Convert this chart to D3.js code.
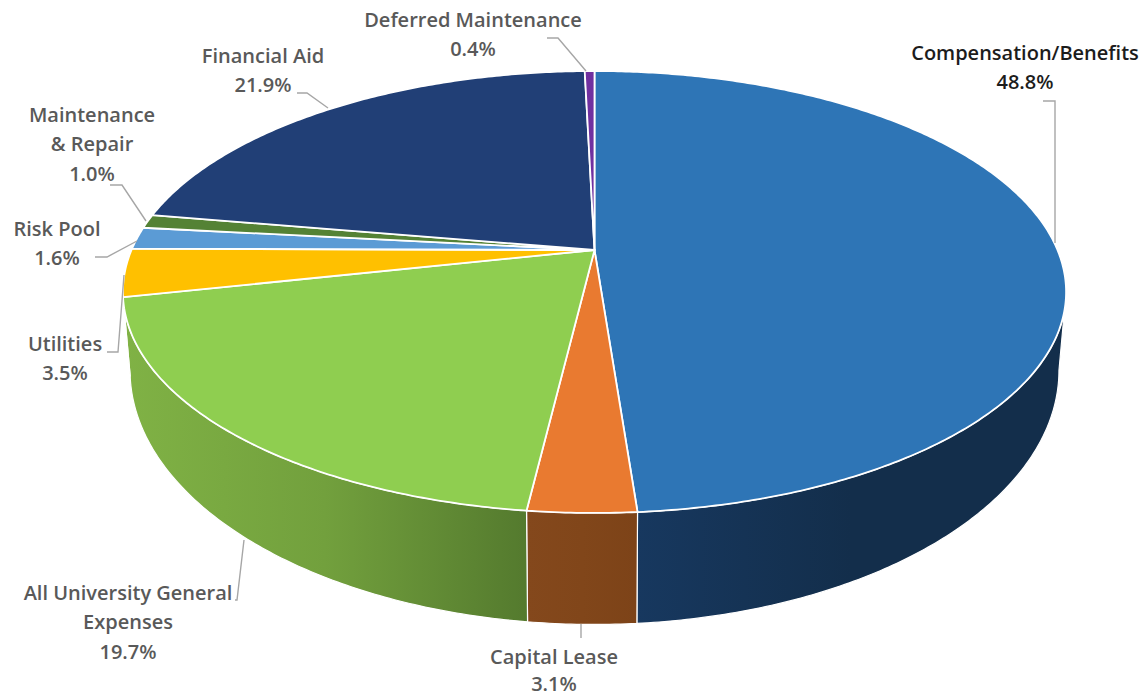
<!DOCTYPE html>
<html>
<head>
<meta charset="utf-8">
<script src="https://cdn.jsdelivr.net/npm/d3@7/dist/d3.min.js"></script>
<style>
html, body { margin: 0; padding: 0; background: #fff; }
svg { display: block; }
text { font-family: "Open Sans", sans-serif; font-weight: 600; font-size: 20px; text-anchor: middle; }
</style>
</head>
<body>
<svg id="chart" width="1142" height="697"></svg>
<script>
// Budget shares, clockwise from twelve o'clock
const categories = ["Compensation/Benefits", "Capital Lease", "All University General Expenses", "Utilities", "Risk Pool", "Maintenance & Repair", "Financial Aid", "Deferred Maintenance"];
const shares = [48.8, 3.1, 19.7, 3.5, 1.6, 1.0, 21.9, 0.4];
const topColors = ["#2e75b6", "#e97a30", "#8fce50", "#ffc000", "#5b9bd5", "#548235", "#213f76", "#7030a0"];

// Wall shading per slice: colours from left end to right end
const wallShades = [
  ["#17385f", "#132e4b", "#132e4b"],
  ["#84481c", "#81461a", "#7d4318"],
  ["#80b245", "#72a03d", "#547a2e"],
  ["#bf9000", "#bf9000", "#bf9000"],
  ["#3f6f9f", "#3f6f9f", "#3f6f9f"],
  ["#3f6228", "#3f6228", "#3f6228"],
  ["#172f58", "#172f58", "#172f58"],
  ["#542478", "#542478", "#542478"]
];

// Label placement: centre x, centre y of the first line, text lines
const labelLayout = [
  { x: 1025, y: 53, lines: ["Compensation/Benefits", "48.8%"], fill: "#1c1c1c" },
  { x: 554, y: 657, gap: 27, lines: ["Capital Lease", "3.1%"] },
  { x: 128, y: 593, lines: ["All University General", "Expenses", "19.7%"] },
  { x: 65, y: 344, lines: ["Utilities", "3.5%"] },
  { x: 57, y: 229, lines: ["Risk Pool", "1.6%"] },
  { x: 92, y: 115, lines: ["Maintenance", "& Repair", "1.0%"] },
  { x: 263, y: 56, lines: ["Financial Aid", "21.9%"] },
  { x: 473, y: 20, lines: ["Deferred Maintenance", "0.4%"] }
];
const lineGap = 29.3;

// Leader polylines from each label to its slice
const leaders = [
  [[1043, 101], [1055, 101], [1055, 243]],
  [[581, 624], [581, 638]],
  [[235, 600], [237, 600], [244, 540]],
  [[107, 352], [118, 352], [124, 275]],
  [[95, 257], [107, 257], [137, 241]],
  [[110, 185], [122, 185], [146, 221]],
  [[297, 93], [307, 93], [328, 108]],
  [[547, 38], [558, 38], [586, 71]]
];

// Perspective projection of the disc: the apex sits above the ellipse centre
const k = 0.19;
const topDisc = { cx: 594.5, cy: 250, a: 463, b: 213 };
const baseDisc = { cx: 594.5, cy: 322, a: 456, b: 245 };
const project = (disc, angle, r = 1) => {
  const s = Math.sin(angle) * r, t = Math.cos(angle) * r;
  const d = 1 + k * t;
  return [disc.cx + disc.a * s / d, disc.cy - disc.b * t / d];
};

// Range of angles where the side wall faces the viewer
const wallFrom = 101 * Math.PI / 180;
const wallTo = 258 * Math.PI / 180;

const pie = d3.pie().value(d => d).sort(null);
const arcs = pie(shares);

const sample = (a0, a1) => {
  const n = Math.max(2, Math.ceil(Math.abs(a1 - a0) / 0.01));
  return d3.range(n + 1).map(i => a0 + (a1 - a0) * i / n);
};
const line = d3.line();

const svg = d3.select("#chart");
const defs = svg.append("defs");

// Side walls
const walls = svg.append("g");
arcs.forEach((arc, i) => {
  const a0 = Math.max(arc.startAngle, wallFrom);
  const a1 = Math.min(arc.endAngle, wallTo);
  if (a0 >= a1) return;
  const angles = sample(a0, a1);
  const upper = angles.map(a => project(topDisc, a));
  const lower = angles.map(a => project(baseDisc, a)).reverse();
  const pts = upper.concat(lower);
  const xs = d3.extent(pts, p => p[0]);
  const id = "wall-" + i;
  const grad = defs.append("linearGradient").attr("id", id)
    .attr("gradientUnits", "userSpaceOnUse")
    .attr("x1", xs[0]).attr("x2", xs[1]).attr("y1", 0).attr("y2", 0);
  wallShades[i].forEach((c, j) => {
    grad.append("stop").attr("offset", j / 2).attr("stop-color", c);
  });
  walls.append("path")
    .attr("d", line(pts) + "Z")
    .attr("fill", `url(#${id})`)
    .attr("stroke", "#fff")
    .attr("stroke-width", 1.2)
    .attr("stroke-linejoin", "round");
});

// Top face slices
svg.append("g").selectAll("path")
  .data(arcs)
  .join("path")
  .attr("d", d => {
    const rim = sample(d.startAngle, d.endAngle).map(a => project(topDisc, a));
    return line([[topDisc.cx, topDisc.cy], ...rim]) + "Z";
  })
  .attr("fill", (d, i) => topColors[i])
  .attr("stroke", "#fff")
  .attr("stroke-width", 1.8)
  .attr("stroke-linejoin", "round");

// Leader lines
svg.append("g").selectAll("path")
  .data(leaders)
  .join("path")
  .attr("d", d => line(d))
  .attr("fill", "none")
  .attr("stroke", "#a6a6a6")
  .attr("stroke-width", 1.4);

// Category and percentage labels
const labels = svg.append("g").selectAll("text")
  .data(labelLayout)
  .join("text")
  .attr("fill", d => d.fill || "#595959");
labels.selectAll("tspan")
  .data(d => d.lines.map((t, j) => ({ t, x: d.x, y: d.y + j * (d.gap || lineGap) + 7 })))
  .join("tspan")
  .attr("x", d => d.x)
  .attr("y", d => d.y)
  .text(d => d.t);
</script>
</body>
</html>
